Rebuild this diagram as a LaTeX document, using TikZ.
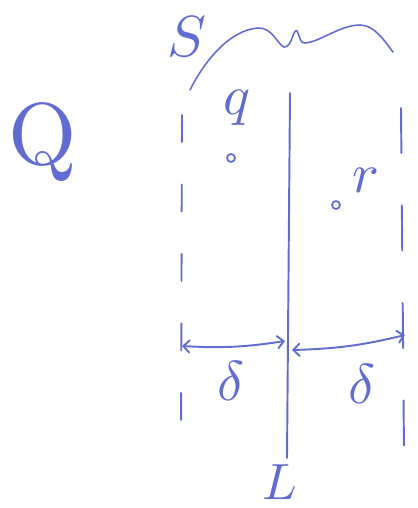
\documentclass[tikz,border=0pt]{standalone}
\usepackage{amsmath,amssymb}
\usetikzlibrary{arrows}
\definecolor{pen}{RGB}{98,108,208}

\begin{document}
\begin{tikzpicture}[x=0.02cm,y=-0.02cm,
    every node/.style={text=pen},
    ink/.style={draw=pen,line width=1.1pt,line cap=round},
    edgeleft/.style={ink,dash pattern=on 0.54cm off 0.85cm},
    edgeright/.style={ink,dash pattern=on 0.9cm off 1.05cm}]
\useasboundingbox (0,0) rectangle (418,508);

% the set Q
\node[scale=5] (Q) at (43,142) {Q};

% strip S round the line L
\coordinate (s1) at (182,115);
\coordinate (s2) at (181,435);
\coordinate (t1) at (401,108);
\coordinate (t2) at (404,452);
\draw[edgeleft] (s1) -- (s2);
\draw[edgeright] (t1) -- (t2);

\coordinate (l1) at (290,93);
\coordinate (l2) at (287,458);
\draw[ink] (l1) -- (l2);
\node[scale=2.9] (L) at (280,482) {$L$};

\node[scale=3.3] (S) at (187,37) {$S$};
\coordinate (b1) at (190,90);
\coordinate (b2) at (393,52);
\draw[ink,line width=0.9pt] (b1) .. controls (205,60) and (230,30) .. (258,28)
    .. controls (272,27) and (278,45) .. (284,47)
    .. controls (292,48) and (293,28) .. (297,31)
    .. controls (300,36) and (300,44) .. (305,43)
    .. controls (320,42) and (340,25) .. (360,25)
    .. controls (375,25) and (385,42) .. (b2);

% points q and r
\node[circle,draw=pen,line width=1pt,inner sep=1.6pt] (q) at (231,158) {};
\node[scale=3.2] (qlab) at (237,108) {$q$};
\node[circle,draw=pen,line width=1pt,inner sep=1.6pt] (r) at (336,205) {};
\node[scale=3.2] (rlab) at (366,180) {$r$};

% distances delta
\coordinate (a1) at (182,346);
\coordinate (a2) at (285,341);
\coordinate (a3) at (292,350);
\coordinate (a4) at (405,335);
\draw[ink,<->,>=angle 90] (a1) to[bend right=6] (a2);
\draw[ink,<->,>=angle 90] (a3) to[bend right=6] (a4);
\node[scale=3.2] (d1) at (231,381) {$\delta$};
\node[scale=3.2] (d2) at (362,384) {$\delta$};

\end{tikzpicture}
\end{document}
